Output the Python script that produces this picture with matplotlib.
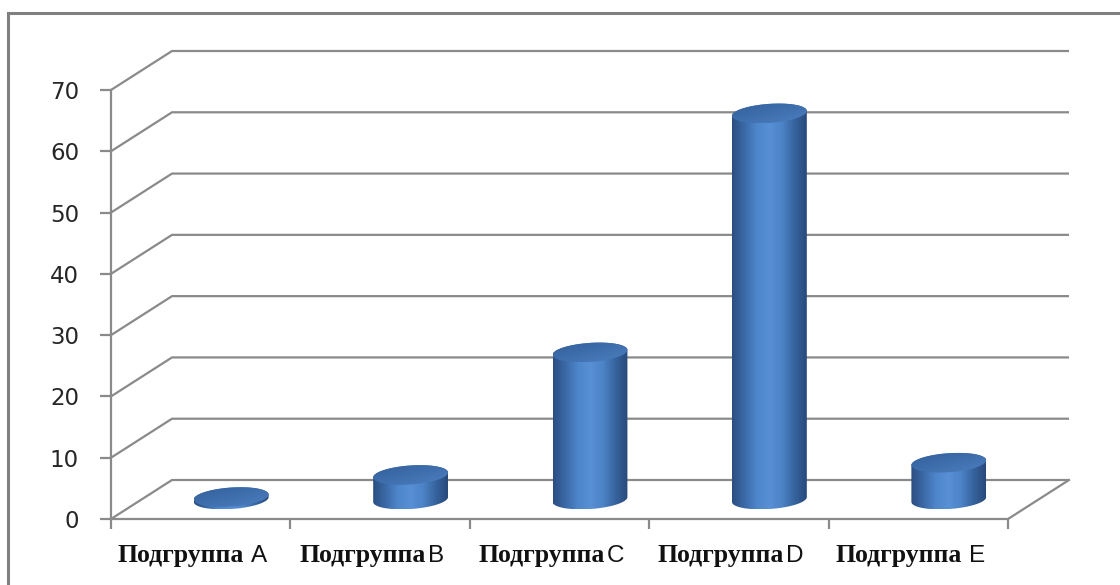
import numpy as np
import matplotlib
matplotlib.use("Agg")
import matplotlib.pyplot as plt
from matplotlib.patches import Polygon
from matplotlib.colors import LinearSegmentedColormap
from matplotlib.offsetbox import TextArea, HPacker, AnnotationBbox
from matplotlib.lines import Line2D

# ---- data ----
prefix = "Подгруппа"
groups = ["A", "B", "C", "D", "E"]
values = [0.4, 4, 24, 63, 6]
y_ticks = [0, 10, 20, 30, 40, 50, 60, 70]

# ---- figure / front plane ----
W, H = 1120, 585
fig = plt.figure(figsize=(W / 100, H / 100), dpi=100)
fig.patch.set_facecolor("white")
ax_left, ax_right, ax_bottom, ax_top = 111, 1008, 519, 90   # pixel frame
ax = fig.add_axes([ax_left / W, (H - ax_bottom) / H,
                   (ax_right - ax_left) / W, (ax_bottom - ax_top) / H])
n = len(groups)
ax.set_xlim(0, n)
ax.set_ylim(0, 70)
ax.set_facecolor("none")

sx = (ax_right - ax_left) / n      # px per category
sy = (ax_bottom - ax_top) / 70.0   # px per unit
DX = 61 / sx                       # depth offset in data units
DY = 39 / sy

grid_col = "#8a8a8a"
lw = 1.6

# back wall gridlines with their diagonal side-wall segments
for v in y_ticks:
    ax.plot([0, DX, n + DX], [v, v + DY, v + DY], color=grid_col, lw=lw,
            clip_on=False, solid_capstyle="butt", zorder=1)
# right edge of the floor
ax.plot([n, n + DX], [0, DY], color=grid_col, lw=lw, clip_on=False, zorder=1)

for s in ["top", "right"]:
    ax.spines[s].set_visible(False)
for s in ["left", "bottom"]:
    ax.spines[s].set_color(grid_col)
    ax.spines[s].set_linewidth(lw)

ax.set_yticks(y_ticks)
ax.set_yticklabels([str(v) for v in y_ticks])
ax.tick_params(axis="y", length=8, width=lw, color=grid_col, pad=15,
               labelsize=16.5, labelcolor="#262626")
ax.set_xticks(np.arange(n + 1))
ax.set_xticklabels([])
ax.tick_params(axis="x", length=7, width=lw, color=grid_col)

# ---- cylinders ----
body_cmap = LinearSegmentedColormap.from_list(
    "body", ["#2b4e80", "#3b69a7", "#4e86cc", "#5890d6", "#4d83c7", "#36649f", "#29497a"])
cap_cmap = LinearSegmentedColormap.from_list("cap", ["#34609a", "#3d6caa", "#4879b9"])

a_px = 0.418 * sx / 2      # half width in px
b_px = 9.5                 # half height of the ellipses in px
theta = np.deg2rad(4)      # slight tilt of the ellipses


def ell(t):
    ex = a_px * np.cos(t) * np.cos(theta) - b_px * np.sin(t) * np.sin(theta)
    ey = a_px * np.cos(t) * np.sin(theta) + b_px * np.sin(t) * np.cos(theta)
    return ex / sx, ey / sy


t0 = np.arctan2(-b_px * np.sin(theta), a_px * np.cos(theta))  # rightmost point

for i, v in enumerate(values):
    cx = i + 0.5 + DX / 2
    base = DY / 2
    top = v + DY / 2

    # body outline: lower arc of base, sides, upper arc of top
    tb = np.linspace(t0, t0 - np.pi, 80)
    bx, by = ell(tb)
    tt = np.linspace(t0 + np.pi, t0, 80)
    tx, ty = ell(tt)
    xs = np.concatenate([cx + bx, cx + tx])
    ys = np.concatenate([base + by, top + ty])
    body = Polygon(np.column_stack([xs, ys]), closed=True, facecolor="none",
                   edgecolor="none", clip_on=False, zorder=3)
    ax.add_patch(body)
    grad = np.linspace(0, 1, 256).reshape(1, -1)
    im = ax.imshow(grad, cmap=body_cmap, aspect="auto",
                   extent=[xs.min(), xs.max(), ys.min(), ys.max()],
                   origin="lower", zorder=3, interpolation="bilinear")
    im.set_clip_path(body)

    # top cap
    tc = np.linspace(0, 2 * np.pi, 160)
    ccx, ccy = ell(tc)
    cap = Polygon(np.column_stack([cx + ccx, top + ccy]), closed=True,
                  facecolor="none", edgecolor="none", clip_on=False, zorder=4)
    ax.add_patch(cap)
    gx, gy = np.meshgrid(np.linspace(0, 1, 64), np.linspace(0, 1, 32))
    cgrad = np.clip(0.6 * gx + 0.6 * (1 - gy), 0, 1)
    im2 = ax.imshow(cgrad, cmap=cap_cmap, aspect="auto",
                    extent=[cx + ccx.min(), cx + ccx.max(), top + ccy.min(), top + ccy.max()],
                    origin="lower", zorder=4, interpolation="bilinear")
    im2.set_clip_path(cap)

ax.set_xlim(0, n)
ax.set_ylim(0, 70)

# ---- category labels: bold serif word + light sans letter ----
for i, g in enumerate(groups):
    word = TextArea(prefix, textprops=dict(family="Liberation Serif", weight="bold",
                                           size=18.5, color="#111111"))
    letter = TextArea(g, textprops=dict(family="Liberation Sans", size=17.5,
                                        color="#111111"))
    gap = 5 if g in ("A", "E") else 1
    box = HPacker(children=[word, letter], align="baseline", pad=0, sep=gap)
    ab = AnnotationBbox(box, (i + 0.5, 0), xybox=(-6, -26), xycoords="data",
                        boxcoords="offset points", frameon=False,
                        box_alignment=(0.5, 0.5), annotation_clip=False)
    ax.add_artist(ab)

# ---- outer chart frame ----
bx0 = 8 / W
by0 = 1 - 13 / H
fig.add_artist(Line2D([bx0, bx0], [0, by0], color="#808080", lw=2.2,
                      transform=fig.transFigure, solid_capstyle="projecting"))
fig.add_artist(Line2D([bx0, 1], [by0, by0], color="#808080", lw=2.2,
                      transform=fig.transFigure, solid_capstyle="projecting"))

fig.savefig("out.png", dpi=100)
